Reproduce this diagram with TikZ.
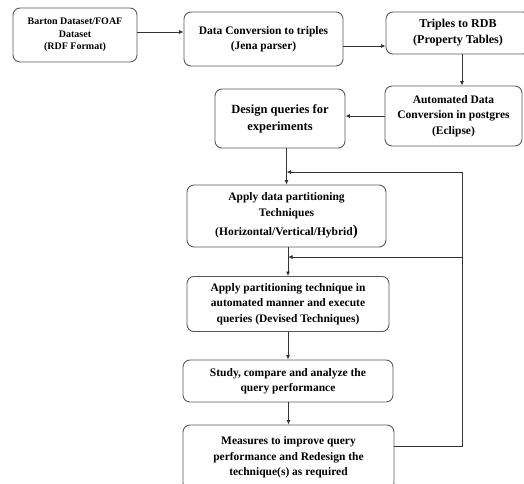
\documentclass[tikz,border=0pt]{standalone}
\usepackage{fontspec}
\setmainfont{Liberation Serif}
\usetikzlibrary{arrows.meta}
\begin{document}
\begin{tikzpicture}[x=1pt,y=-1pt,
  box/.style={draw=black!65, line width=0.9pt, rounded corners=7pt, align=center,
    inner sep=1pt, font=\bfseries\fontsize{11.5}{15.5}\selectfont},
  conn/.style={draw=black!80, line width=0.8pt},
  arr/.style={conn, -{Latex[length=4.5pt,width=4pt]}}]
\useasboundingbox (0,0) rectangle (524,483);
% boxes
\node[box, minimum width=124pt, minimum height=54pt, font=\bfseries\fontsize{10}{12.5}\selectfont] (b1) at (75,35)
  {Barton Dataset/FOAF\\ Dataset\\ (RDF Format)};
\node[box, minimum width=159pt, minimum height=54pt] (b2) at (263.5,39)
  {Data Conversion to triples\\ (Jena parser)};
\node[box, minimum width=144pt, minimum height=42pt, font=\bfseries\fontsize{12}{16}\selectfont] (b3) at (458,33)
  {Triples to RDB\\ (Property Tables)};
\node[box, minimum width=137pt, minimum height=60pt] (b4) at (453.5,116)
  {Automated Data\\ Conversion in postgres\\ (Eclipse)};
\node[box, minimum width=130pt, minimum height=59pt, font=\bfseries\fontsize{12.5}{17}\selectfont] (b5) at (280,118.5)
  {Design queries for\\ experiments};
\node[box, minimum width=199pt, minimum height=62pt] (bap) at (286.5,216)
  {Apply data partitioning\\ Techniques\\[4pt] (Horizontal/Vertical/Hybrid{\fontsize{15}{15}\selectfont)}};
\node[box, minimum width=202pt, minimum height=55pt] (b6) at (288,304)
  {Apply partitioning technique in\\ automated manner and execute\\ queries (Devised Techniques)};
\node[box, minimum width=210pt, minimum height=42pt] (b7) at (288,381)
  {Study, compare and analyze the\\ query performance};
\node[box, minimum width=211pt, minimum height=65pt] (b8) at (288.5,457.5)
  {Measures to improve query\\ performance and Redesign the\\ technique(s) as required};
% connectors
\draw[arr] ([yshift=3pt]b1.east) -- ([yshift=3pt]b1.east -| b2.west);
\draw[arr] ([yshift=-7pt]b2.east) -- ([yshift=-7pt]b2.east -| b3.west);
\draw[arr] ([xshift=4pt]b3.south) -- ([xshift=4pt]b3.south |- b4.north);
\draw[arr] (b4.west) -- (b4.west -| b5.east);
\draw[arr] (bap.north |- b5.south) -- (bap.north);
\draw[arr] (b6.north |- bap.south) -- (b6.north);
\draw[arr] (b7.north |- b6.south) -- (b7.north);
\draw[arr] (b8.north |- b7.south) -- (b8.north);
% feedback loop
\coordinate (fbot) at (462,446);
\coordinate (ftop) at (462,172);
\coordinate (fmid) at (462,257);
\draw[conn] (b8.east |- fbot) -- (fbot) -- (ftop);
\draw[arr] (ftop) -- (bap.north |- ftop);
\draw[arr] (fmid) -- (b6.north |- fmid);
\end{tikzpicture}
\end{document}
